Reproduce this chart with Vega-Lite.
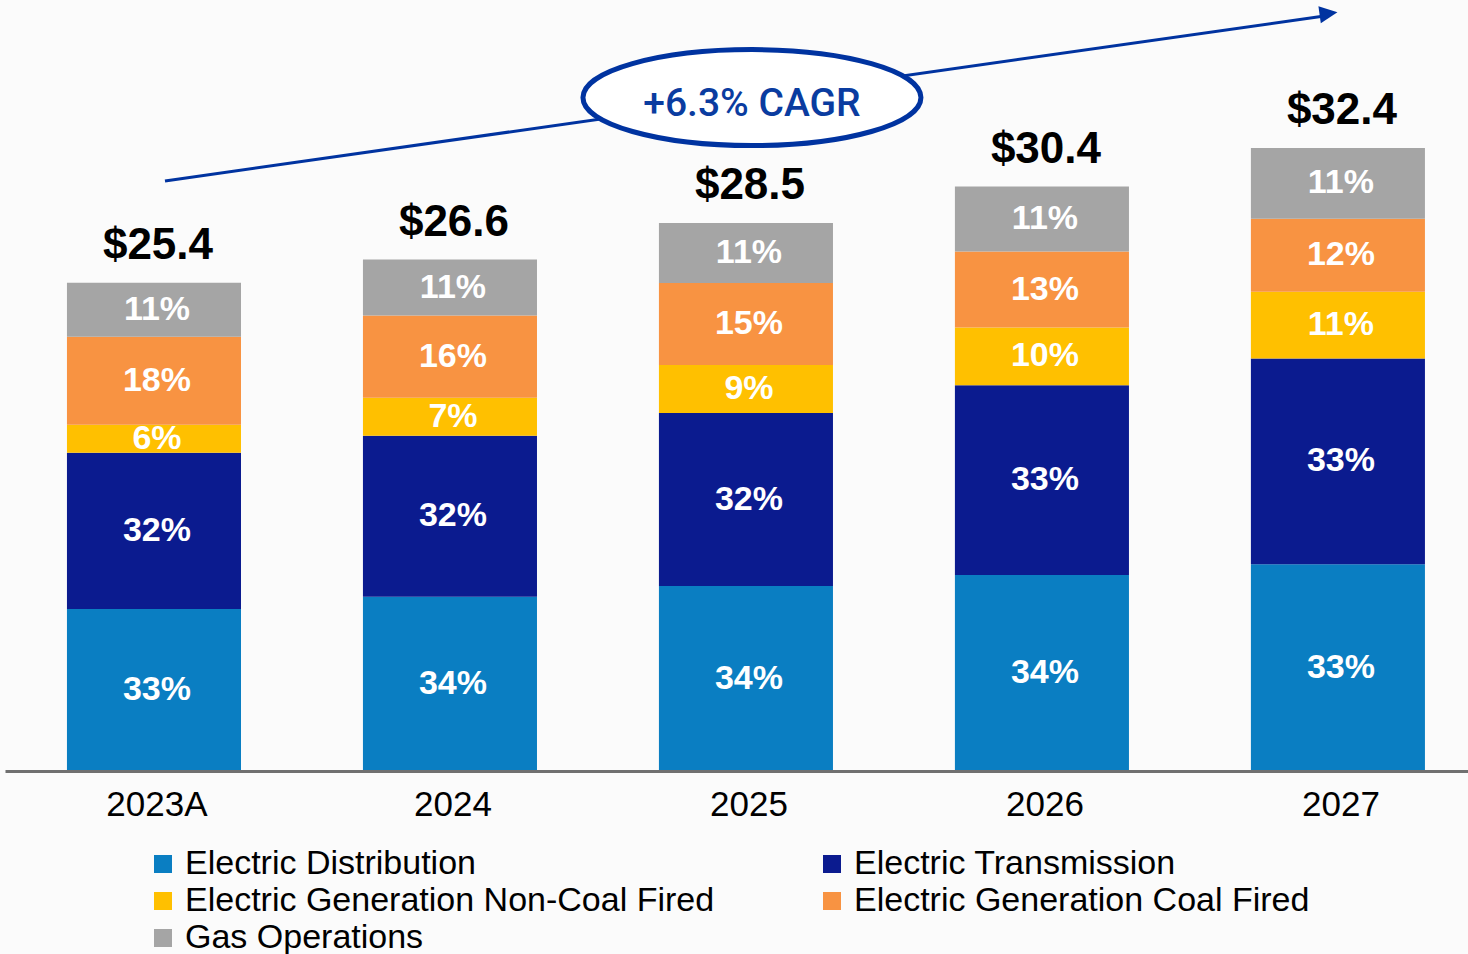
{
  "$schema": "https://vega.github.io/schema/vega-lite/v6.json",
  "width": 1463,
  "height": 769,
  "autosize": {"type": "none"},
  "padding": {"left": 5, "top": 2, "right": 0, "bottom": 183},
  "background": "#FBFBFB",
  "config": {"view": {"stroke": null}, "font": "Liberation Sans"},
  "datasets": {
    "segments": [
      {"year": "2023A", "segment": "Electric Distribution", "k": 1, "value": 8.43, "pct": "33%"},
      {"year": "2023A", "segment": "Electric Transmission", "k": 2, "value": 8.12, "pct": "32%"},
      {"year": "2023A", "segment": "Electric Generation Non-Coal Fired", "k": 3, "value": 1.46, "pct": "6%"},
      {"year": "2023A", "segment": "Electric Generation Coal Fired", "k": 4, "value": 4.58, "pct": "18%"},
      {"year": "2023A", "segment": "Gas Operations", "k": 5, "value": 2.81, "pct": "11%"},
      {"year": "2024", "segment": "Electric Distribution", "k": 1, "value": 9.06, "pct": "34%"},
      {"year": "2024", "segment": "Electric Transmission", "k": 2, "value": 8.38, "pct": "32%"},
      {"year": "2024", "segment": "Electric Generation Non-Coal Fired", "k": 3, "value": 1.98, "pct": "7%"},
      {"year": "2024", "segment": "Electric Generation Coal Fired", "k": 4, "value": 4.27, "pct": "16%"},
      {"year": "2024", "segment": "Gas Operations", "k": 5, "value": 2.91, "pct": "11%"},
      {"year": "2025", "segment": "Electric Distribution", "k": 1, "value": 9.62, "pct": "34%"},
      {"year": "2025", "segment": "Electric Transmission", "k": 2, "value": 9.0, "pct": "32%"},
      {"year": "2025", "segment": "Electric Generation Non-Coal Fired", "k": 3, "value": 2.5, "pct": "9%"},
      {"year": "2025", "segment": "Electric Generation Coal Fired", "k": 4, "value": 4.26, "pct": "15%"},
      {"year": "2025", "segment": "Gas Operations", "k": 5, "value": 3.12, "pct": "11%"},
      {"year": "2026", "segment": "Electric Distribution", "k": 1, "value": 10.19, "pct": "34%"},
      {"year": "2026", "segment": "Electric Transmission", "k": 2, "value": 9.87, "pct": "33%"},
      {"year": "2026", "segment": "Electric Generation Non-Coal Fired", "k": 3, "value": 3.01, "pct": "10%"},
      {"year": "2026", "segment": "Electric Generation Coal Fired", "k": 4, "value": 3.95, "pct": "13%"},
      {"year": "2026", "segment": "Gas Operations", "k": 5, "value": 3.38, "pct": "11%"},
      {"year": "2027", "segment": "Electric Distribution", "k": 1, "value": 10.75, "pct": "33%"},
      {"year": "2027", "segment": "Electric Transmission", "k": 2, "value": 10.7, "pct": "33%"},
      {"year": "2027", "segment": "Electric Generation Non-Coal Fired", "k": 3, "value": 3.48, "pct": "11%"},
      {"year": "2027", "segment": "Electric Generation Coal Fired", "k": 4, "value": 3.79, "pct": "12%"},
      {"year": "2027", "segment": "Gas Operations", "k": 5, "value": 3.68, "pct": "11%"}
    ],
    "totals": [
      {"year": "2023A", "total": 25.4, "label": "$25.4"},
      {"year": "2024", "total": 26.6, "label": "$26.6"},
      {"year": "2025", "total": 28.5, "label": "$28.5"},
      {"year": "2026", "total": 30.4, "label": "$30.4"},
      {"year": "2027", "total": 32.4, "label": "$32.4"}
    ]
  },
  "layer": [
    {
      "data": {"name": "segments"},
      "mark": {"type": "bar"},
      "encoding": {
        "x": {
          "field": "year", "type": "nominal",
          "scale": {"paddingInner": 0.412, "paddingOuter": 0.1774, "align": 0.59},
          "axis": {"title": null, "labelAngle": 0, "labelFontSize": 35, "labelColor": "#000000", "labelFont": "Liberation Sans", "ticks": false, "labelPadding": 16, "labelOffset": 3, "domainColor": "#707070", "domainWidth": 3, "zindex": 1}
        },
        "y": {"field": "value", "type": "quantitative", "stack": "zero", "scale": {"domain": [0, 40]}, "axis": null},
        "order": {"field": "k", "type": "quantitative"},
        "color": {
          "field": "segment", "type": "nominal",
          "scale": {
            "domain": ["Electric Distribution", "Electric Transmission", "Electric Generation Non-Coal Fired", "Electric Generation Coal Fired", "Gas Operations"],
            "range": ["#0A7EC2", "#0B1B8F", "#FFC000", "#F89342", "#A5A5A5"]
          },
          "legend": {
            "orient": "none", "direction": "horizontal", "legendX": 141, "legendY": 845, "columns": 2, "columnPadding": 100, "rowPadding": 3,
            "title": null, "symbolType": "square", "symbolSize": 324, "symbolStrokeWidth": 0,
            "labelFontSize": 34, "labelFont": "Liberation Sans", "labelColor": "#000000", "labelOffset": 5, "labelLimit": 1000, "padding": 0
          }
        }
      }
    },
    {
      "data": {"name": "segments"},
      "mark": {"type": "text", "font": "Liberation Sans", "fontWeight": "bold", "fontSize": 34, "fill": "#FFFFFF", "baseline": "middle", "dx": 3},
      "encoding": {
        "x": {"field": "year", "type": "nominal", "axis": {"title": null}},
        "y": {"field": "value", "type": "quantitative", "stack": "zero", "bandPosition": 0.5, "axis": null},
        "order": {"field": "k", "type": "quantitative"},
        "detail": {"field": "segment"},
        "text": {"field": "pct"}
      }
    },
    {
      "data": {"name": "totals"},
      "mark": {"type": "text", "font": "Liberation Sans", "fontWeight": "bold", "fontSize": 44, "fill": "#000000", "baseline": "alphabetic", "dy": -24, "dx": 4},
      "encoding": {
        "x": {"field": "year", "type": "nominal", "axis": {"title": null}},
        "y": {"field": "total", "type": "quantitative", "axis": null},
        "text": {"field": "label"}
      }
    },
    {
      "data": {"values": [{"year": "2023A", "year2": "2027", "v1": 30.69, "v2": 39.3}]},
      "mark": {"type": "rule", "color": "#0033A0", "strokeWidth": 3, "xOffset": 11, "x2Offset": -10},
      "encoding": {
        "x": {"field": "year", "type": "nominal", "axis": {"title": null}},
        "x2": {"field": "year2"},
        "y": {"field": "v1", "type": "quantitative", "axis": null},
        "y2": {"field": "v2"}
      }
    },
    {
      "data": {"values": [{"year": "2027", "v": 39.4}]},
      "mark": {"type": "point", "shape": "M1,0L-1,-0.95L-1,0.95Z", "size": 324, "filled": true, "fill": "#0033A0", "strokeWidth": 0, "opacity": 1, "angle": 352, "xOffset": -9.4},
      "encoding": {
        "x": {"field": "year", "type": "nominal", "axis": {"title": null}},
        "y": {"field": "v", "type": "quantitative", "axis": null}
      }
    },
    {
      "data": {"values": [{"year": "2025", "v": 35.03, "label": "+6.3% CAGR"}]},
      "mark": {"type": "point", "shape": "M1,0C1,0.157,0.552,0.284,0,0.284C-0.552,0.284,-1,0.157,-1,0C-1,-0.157,-0.552,-0.284,0,-0.284C0.552,-0.284,1,-0.157,1,0Z", "size": 114244, "filled": true, "fill": "#FFFFFF", "stroke": "#0033A0", "strokeWidth": 5, "opacity": 1, "xOffset": 6},
      "encoding": {
        "x": {"field": "year", "type": "nominal", "axis": {"title": null}},
        "y": {"field": "v", "type": "quantitative", "axis": null}
      }
    },
    {
      "data": {"values": [{"year": "2025", "v": 35.03, "label": "+6.3% CAGR"}]},
      "mark": {"type": "text", "font": "Roboto", "fontWeight": 500, "fontSize": 39, "fill": "#0A3CA0", "baseline": "middle", "dy": 6, "dx": 6},
      "encoding": {
        "x": {"field": "year", "type": "nominal", "axis": {"title": null}},
        "y": {"field": "v", "type": "quantitative", "axis": null},
        "text": {"field": "label"}
      }
    }
  ]
}
